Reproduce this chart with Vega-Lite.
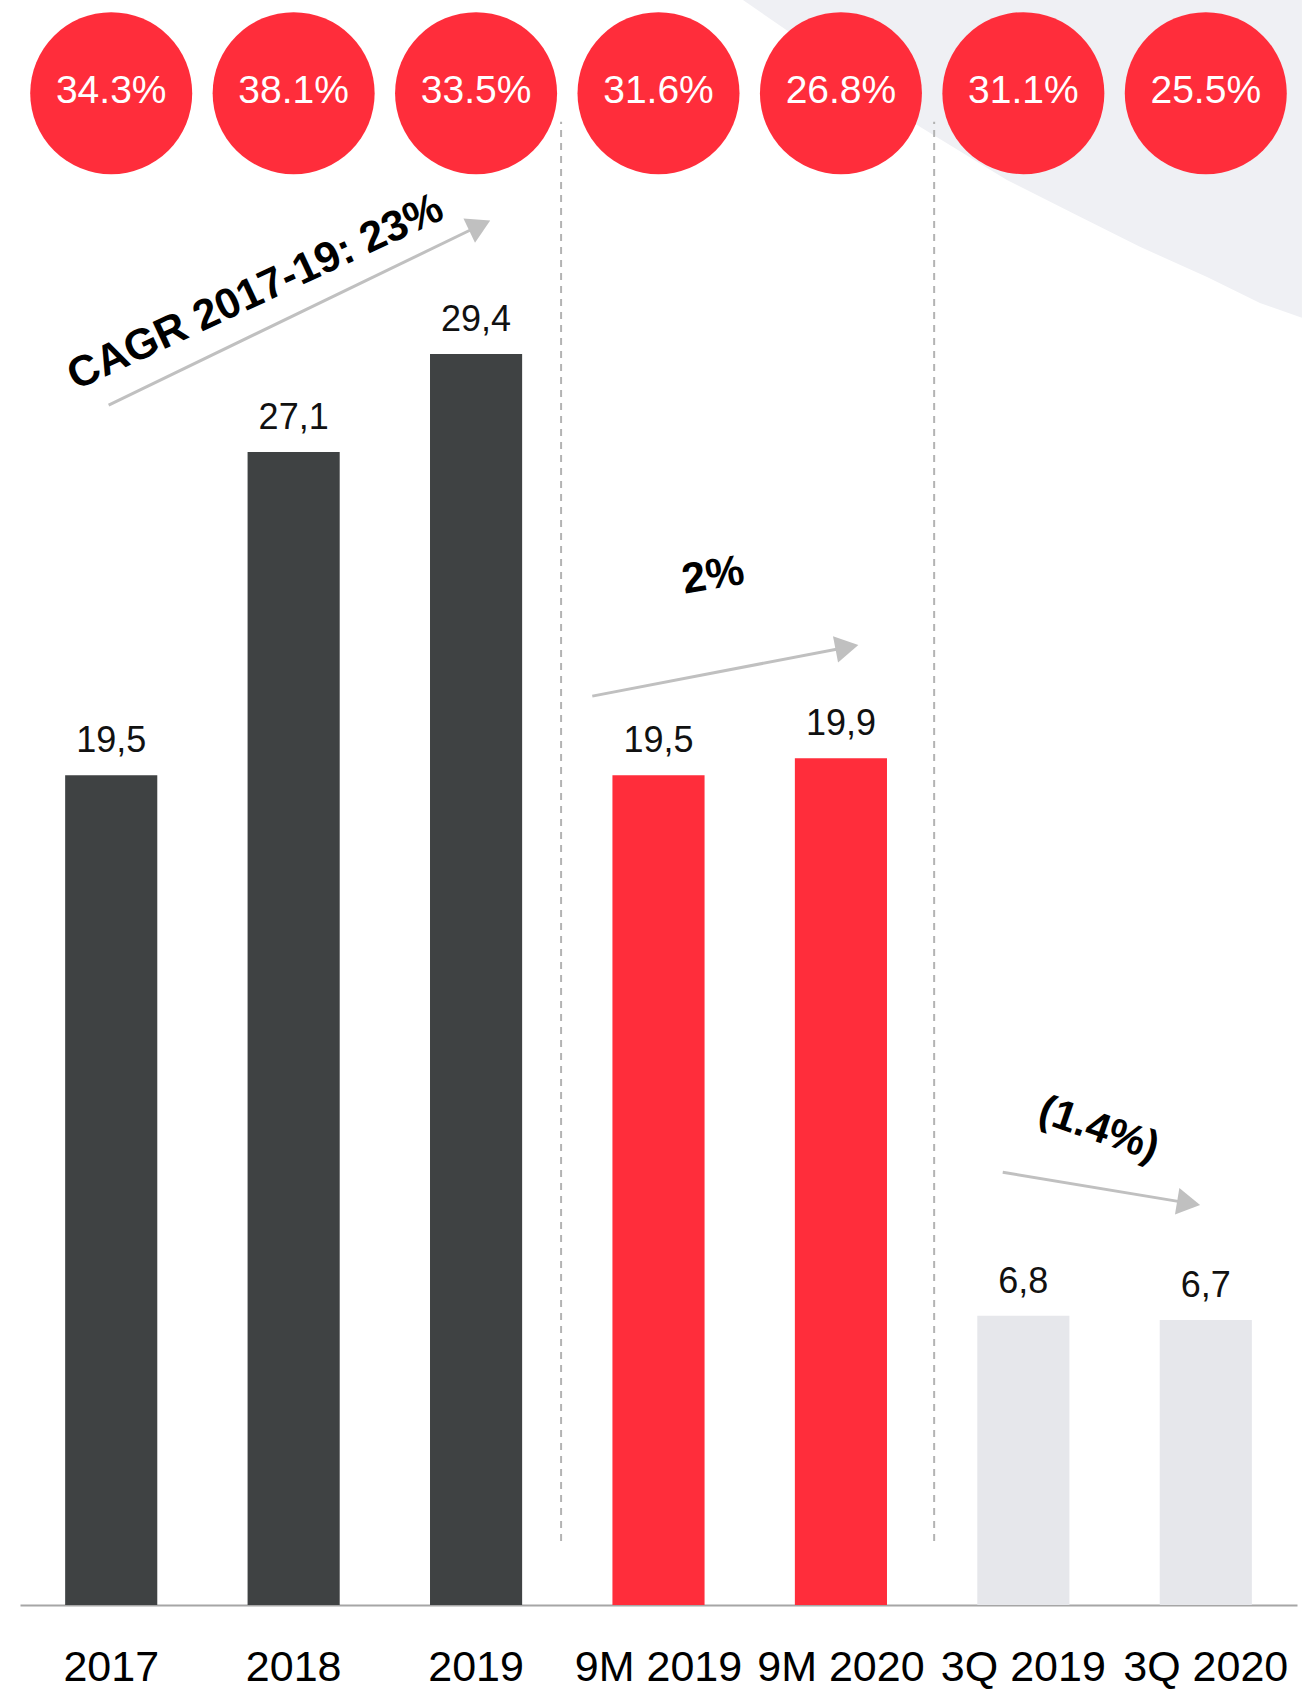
{
  "$schema": "https://vega.github.io/schema/vega-lite/v6.json",
  "width": 1277,
  "height": 1605,
  "autosize": {"type": "none"},
  "padding": {"left": 20, "top": 0, "right": 5, "bottom": 85},
  "background": "#ffffff",
  "config": {"view": {"stroke": null}, "font": "Liberation Sans", "axis": {"grid": false}},
  "datasets": {
    "bars": [
      {"period": "2017", "value": 19.5, "margin": 0.343, "group": "Annual"},
      {"period": "2018", "value": 27.1, "margin": 0.381, "group": "Annual"},
      {"period": "2019", "value": 29.4, "margin": 0.335, "group": "Annual"},
      {"period": "9M 2019", "value": 19.5, "margin": 0.316, "group": "9M"},
      {"period": "9M 2020", "value": 19.9, "margin": 0.268, "group": "9M"},
      {"period": "3Q 2019", "value": 6.8, "margin": 0.311, "group": "3Q"},
      {"period": "3Q 2020", "value": 6.7, "margin": 0.255, "group": "3Q"}
    ],
    "shape": [
      {"x": 3.963, "y": 37.72}, {"x": 4.199, "y": 37.02}, {"x": 4.933, "y": 34.74},
      {"x": 5.41, "y": 33.49}, {"x": 5.772, "y": 32.71}, {"x": 6.139, "y": 31.92},
      {"x": 6.507, "y": 31.21}, {"x": 6.797, "y": 30.6}, {"x": 7.027, "y": 30.25}
    ],
    "dividers": [
      {"x": 2.966, "y": 1.504, "y2": 34.86},
      {"x": 5.011, "y": 1.504, "y2": 34.86}
    ],
    "arrows": [
      {"id": "cagr", "x": 0.486, "y": 28.2, "x2": 2.52, "y2": 32.42},
      {"id": "nine", "x": 3.137, "y": 21.36, "x2": 4.533, "y2": 22.51},
      {"id": "q3", "x": 5.387, "y": 10.17, "x2": 6.406, "y2": 9.445}
    ],
    "notes": [
      {"id": "cagr", "note": "CAGR 2017-19: 23%", "x": 1.291, "y": 30.85},
      {"id": "nine", "note": "2%", "x": 3.799, "y": 24.19},
      {"id": "q3", "note": "(1.4%)", "x": 5.915, "y": 11.19}
    ]
  },
  "layer": [
    {
      "data": {"name": "shape"},
      "mark": {"type": "area", "color": "#eff0f4", "opacity": 1},
      "encoding": {
        "x": {"field": "x", "type": "quantitative", "scale": {"domain": [0, 7], "nice": false, "zero": false}, "axis": null},
        "y": {"field": "y", "type": "quantitative", "scale": {"domain": [0, 37.72], "nice": false, "zero": false}, "axis": null},
        "y2": {"datum": 37.72}
      }
    },
    {
      "data": {"name": "dividers"},
      "mark": {"type": "rule", "color": "#b3b3b3", "strokeWidth": 2, "strokeDash": [7, 6]},
      "encoding": {
        "x": {"field": "x", "type": "quantitative", "scale": {"domain": [0, 7], "nice": false, "zero": false}, "axis": null},
        "y": {"field": "y", "type": "quantitative", "scale": {"domain": [0, 37.72], "nice": false, "zero": false}, "axis": null},
        "y2": {"field": "y2"}
      }
    },
    {
      "data": {"name": "arrows"},
      "mark": {"type": "rule", "color": "#c0c0c0", "strokeWidth": 3},
      "encoding": {
        "x": {"field": "x", "type": "quantitative", "scale": {"domain": [0, 7], "nice": false, "zero": false}, "axis": null},
        "y": {"field": "y", "type": "quantitative", "scale": {"domain": [0, 37.72], "nice": false, "zero": false}, "axis": null},
        "x2": {"field": "x2"},
        "y2": {"field": "y2"}
      }
    },
    {
      "data": {"name": "arrows"},
      "transform": [{"filter": "datum.id == 'cagr'"}],
      "mark": {"type": "point", "shape": "triangle-right", "filled": true, "color": "#c0c0c0", "opacity": 1, "size": 720, "angle": -25.5},
      "encoding": {
        "x": {"field": "x2", "type": "quantitative", "scale": {"domain": [0, 7], "nice": false, "zero": false}, "axis": null},
        "y": {"field": "y2", "type": "quantitative", "scale": {"domain": [0, 37.72], "nice": false, "zero": false}, "axis": null}
      }
    },
    {
      "data": {"name": "arrows"},
      "transform": [{"filter": "datum.id == 'nine'"}],
      "mark": {"type": "point", "shape": "triangle-right", "filled": true, "color": "#c0c0c0", "opacity": 1, "size": 720, "angle": -10.9},
      "encoding": {
        "x": {"field": "x2", "type": "quantitative", "scale": {"domain": [0, 7], "nice": false, "zero": false}, "axis": null},
        "y": {"field": "y2", "type": "quantitative", "scale": {"domain": [0, 37.72], "nice": false, "zero": false}, "axis": null}
      }
    },
    {
      "data": {"name": "arrows"},
      "transform": [{"filter": "datum.id == 'q3'"}],
      "mark": {"type": "point", "shape": "triangle-right", "filled": true, "color": "#c0c0c0", "opacity": 1, "size": 720, "angle": 9.4},
      "encoding": {
        "x": {"field": "x2", "type": "quantitative", "scale": {"domain": [0, 7], "nice": false, "zero": false}, "axis": null},
        "y": {"field": "y2", "type": "quantitative", "scale": {"domain": [0, 37.72], "nice": false, "zero": false}, "axis": null}
      }
    },
    {
      "data": {"name": "notes"},
      "transform": [{"filter": "datum.id == 'cagr'"}],
      "mark": {"type": "text", "fontWeight": "bold", "fontSize": 43, "color": "#000000", "align": "center", "baseline": "middle", "angle": -25},
      "encoding": {
        "x": {"field": "x", "type": "quantitative", "scale": {"domain": [0, 7], "nice": false, "zero": false}, "axis": null},
        "y": {"field": "y", "type": "quantitative", "scale": {"domain": [0, 37.72], "nice": false, "zero": false}, "axis": null},
        "text": {"field": "note"}
      }
    },
    {
      "data": {"name": "notes"},
      "transform": [{"filter": "datum.id == 'nine'"}],
      "mark": {"type": "text", "fontWeight": "bold", "fontSize": 43, "color": "#000000", "align": "center", "baseline": "middle", "angle": -9.5},
      "encoding": {
        "x": {"field": "x", "type": "quantitative", "scale": {"domain": [0, 7], "nice": false, "zero": false}, "axis": null},
        "y": {"field": "y", "type": "quantitative", "scale": {"domain": [0, 37.72], "nice": false, "zero": false}, "axis": null},
        "text": {"field": "note"}
      }
    },
    {
      "data": {"name": "notes"},
      "transform": [{"filter": "datum.id == 'q3'"}],
      "mark": {"type": "text", "fontWeight": "bold", "fontSize": 42, "color": "#000000", "align": "center", "baseline": "middle", "angle": 19},
      "encoding": {
        "x": {"field": "x", "type": "quantitative", "scale": {"domain": [0, 7], "nice": false, "zero": false}, "axis": null},
        "y": {"field": "y", "type": "quantitative", "scale": {"domain": [0, 37.72], "nice": false, "zero": false}, "axis": null},
        "text": {"field": "note"}
      }
    },
    {
      "data": {"name": "bars"},
      "mark": {"type": "bar"},
      "encoding": {
        "x": {
          "field": "period", "type": "nominal", "sort": null,
          "scale": {"paddingInner": 0.495, "paddingOuter": 0.2475},
          "axis": {
            "orient": "bottom",
            "title": null, "labelAngle": 0, "labelFontSize": 43, "labelColor": "#000000",
            "labelFont": "Liberation Sans", "labelPadding": 75, "labelBaseline": "alphabetic",
            "ticks": false, "tickSize": 0, "domain": true, "domainColor": "#a6a6a6", "domainWidth": 2,
            "labelOverlap": false, "labelBound": false, "labelFlush": false, "labelLimit": 400
          }
        },
        "y": {"field": "value", "type": "quantitative", "scale": {"domain": [0, 37.72], "nice": false, "zero": false}, "axis": null},
        "color": {
          "field": "group", "type": "nominal",
          "scale": {"domain": ["Annual", "9M", "3Q"], "range": ["#3f4243", "#ff2d3b", "#e6e7eb"]},
          "legend": null
        }
      }
    },
    {
      "data": {"name": "bars"},
      "mark": {"type": "text", "dy": -23, "baseline": "alphabetic", "fontSize": 36, "color": "#111111",
               "text": {"expr": "replace(format(datum.value, '.1f'), '.', ',')"}},
      "encoding": {
        "x": {"field": "period", "type": "nominal", "sort": null, "scale": {"paddingInner": 0.495, "paddingOuter": 0.2475}, "axis": null},
        "y": {"field": "value", "type": "quantitative", "scale": {"domain": [0, 37.72], "nice": false, "zero": false}, "axis": null}
      }
    },
    {
      "data": {"name": "bars"},
      "mark": {"type": "point", "shape": "circle", "filled": true, "color": "#ff2d3b", "opacity": 1, "size": 26244, "strokeWidth": 0},
      "encoding": {
        "x": {"field": "period", "type": "nominal", "sort": null, "scale": {"paddingInner": 0.495, "paddingOuter": 0.2475}, "axis": null},
        "y": {"datum": 35.53, "type": "quantitative", "scale": {"domain": [0, 37.72], "nice": false, "zero": false}, "axis": null}
      }
    },
    {
      "data": {"name": "bars"},
      "mark": {"type": "text", "color": "#ffffff", "fontSize": 39, "dy": 10, "baseline": "alphabetic", "align": "center"},
      "encoding": {
        "x": {"field": "period", "type": "nominal", "sort": null, "scale": {"paddingInner": 0.495, "paddingOuter": 0.2475}, "axis": null},
        "y": {"datum": 35.53, "type": "quantitative", "scale": {"domain": [0, 37.72], "nice": false, "zero": false}, "axis": null},
        "text": {"field": "margin", "type": "quantitative", "format": ".1%"}
      }
    }
  ],
  "resolve": {"scale": {"x": "independent"}}
}
